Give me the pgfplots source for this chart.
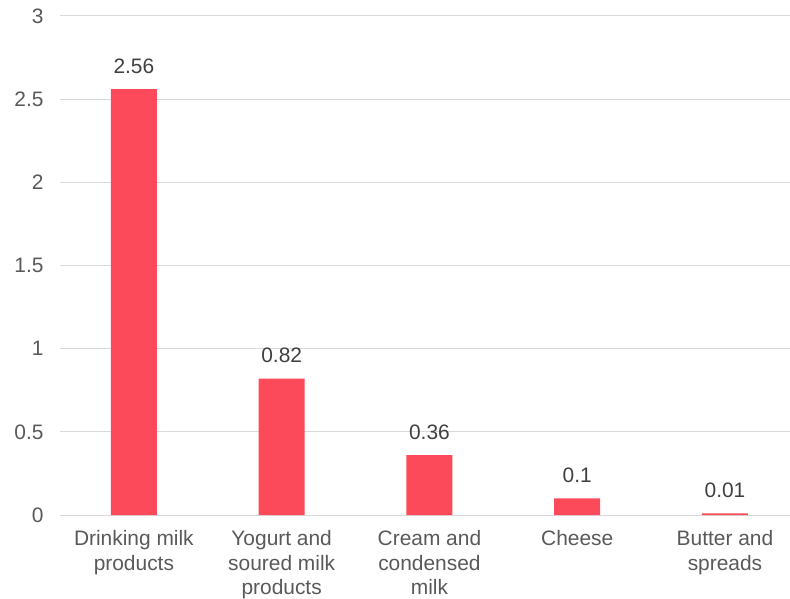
\documentclass[border=0pt]{standalone}
\usepackage{pgfplots}
\pgfplotsset{compat=1.18}
\usepackage{fontspec}
\setmainfont{Liberation Sans}
\definecolor{barred}{RGB}{252,74,90}
\definecolor{gridgray}{RGB}{217,217,217}
\definecolor{ticktext}{RGB}{89,89,89}
\definecolor{labeltext}{RGB}{64,64,64}
\begin{document}
\begin{tikzpicture}
\begin{axis}[
  name=ax,
  at={(0,0)}, anchor=south west,
  scale only axis,
  width=730bp, height=499bp,
  xmin=-0.5, xmax=4.44,
  ymin=0, ymax=3,
  ytick={0,0.5,1,1.5,2,2.5,3},
  xtick={0,1,2,3,4},
  xticklabels={{Drinking milk\\products},{Yogurt and\\soured milk\\products},{Cream and\\condensed\\milk},{Cheese},{Butter and\\spreads}},
  xticklabel style={align=center, font={\fontsize{21}{24.5}\selectfont}, text=ticktext, anchor=north, yshift=-12bp},
  yticklabel style={font={\fontsize{21}{24}\selectfont}, text=ticktext, xshift=-13bp},
  /pgf/number format/assume math mode=true,
  yticklabel={\pgfmathprintnumber[fixed,precision=1]{\tick}},
  ymajorgrids,
  grid style={gridgray, line width=1bp},
  axis line style={draw=none},
  major tick length=0pt,
  ybar,
  bar width=46bp,
  nodes near coords={\pgfmathprintnumber[fixed,precision=2]{\pgfplotspointmeta}},
  nodes near coords style={font={\fontsize{21}{24}\selectfont}, text=labeltext, anchor=base, yshift=16bp},
  clip=false,
]
\addplot[fill=barred, draw=none] coordinates {(0,2.56) (1,0.82) (2,0.36) (3,0.10) (4,0.01)};
\end{axis}
\pgfresetboundingbox
\useasboundingbox (-60bp,-84bp) rectangle (730bp,515bp);
\end{tikzpicture}
\end{document}
